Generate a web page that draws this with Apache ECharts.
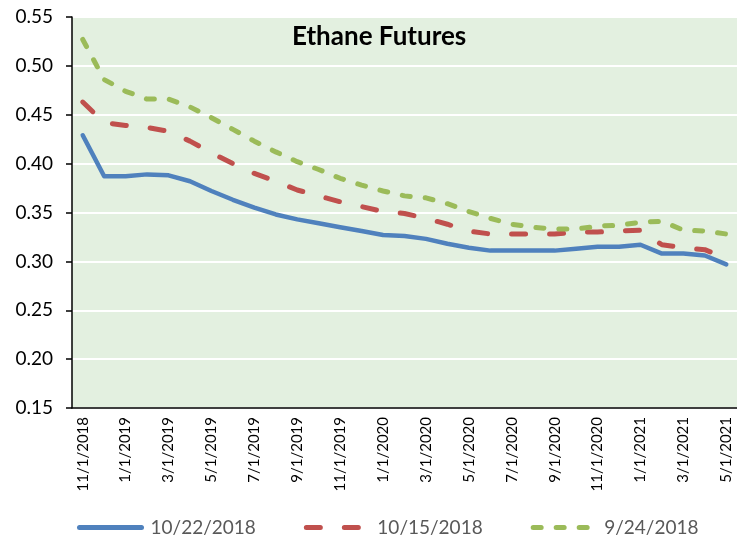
<!DOCTYPE html>
<html>
<head>
<meta charset="utf-8">
<script src="https://cdn.jsdelivr.net/npm/echarts@6/dist/echarts.min.js"></script>
<style>
  html, body { margin: 0; padding: 0; background: #fff; }
  #main { width: 737px; height: 543px; }
</style>
</head>
<body>
<div id="main"></div>
<script>
const months = [
    '11/1/2018', '12/1/2018',
    '1/1/2019', '2/1/2019', '3/1/2019', '4/1/2019', '5/1/2019', '6/1/2019',
    '7/1/2019', '8/1/2019', '9/1/2019', '10/1/2019', '11/1/2019', '12/1/2019',
    '1/1/2020', '2/1/2020', '3/1/2020', '4/1/2020', '5/1/2020', '6/1/2020',
    '7/1/2020', '8/1/2020', '9/1/2020', '10/1/2020', '11/1/2020', '12/1/2020',
    '1/1/2021', '2/1/2021', '3/1/2021', '4/1/2021', '5/1/2021'
];
const curve1022 = [0.429, 0.387, 0.387, 0.389, 0.388, 0.382, 0.372, 0.363, 0.355, 0.348, 0.343,
    0.339, 0.335, 0.331, 0.327, 0.326, 0.323, 0.318, 0.314, 0.311, 0.311, 0.311, 0.311,
    0.313, 0.315, 0.315, 0.317, 0.308, 0.308, 0.306, 0.297];
const curve1015 = [0.463, 0.442, 0.439, 0.437, 0.433, 0.423, 0.411, 0.400, 0.390, 0.382, 0.373,
    0.367, 0.361, 0.356, 0.351, 0.349, 0.344, 0.338, 0.331, 0.328, 0.328, 0.328, 0.328,
    0.330, 0.330, 0.331, 0.332, 0.317, 0.314, 0.312, 0.303];
const curve0924 = [0.527, 0.486, 0.474, 0.466, 0.466, 0.458, 0.447, 0.435, 0.423, 0.412, 0.402,
    0.394, 0.385, 0.378, 0.372, 0.367, 0.365, 0.359, 0.351, 0.344, 0.338, 0.335, 0.333,
    0.333, 0.336, 0.337, 0.340, 0.341, 0.332, 0.331, 0.328];
const seriesNames = ['10/22/2018', '10/15/2018', '9/24/2018'];

const font = 'Lato';

const option = {
    animation: false,
    backgroundColor: '#fff',
    title: {
        text: 'Ethane Futures',
        left: 287,
        top: 19,
        textStyle: { fontFamily: font, fontWeight: 'bold', fontSize: 26, color: '#000' }
    },
    legend: {
        left: 72,
        bottom: 1,
        itemWidth: 62,
        itemHeight: 12,
        itemGap: 48,
        itemStyle: { opacity: 0, borderWidth: 0 },
        lineStyle: { width: 5, cap: 'round' },
        textStyle: { fontFamily: font, fontSize: 19, color: '#595959', padding: [0, 0, 0, 4] },
        data: seriesNames
    },
    grid: {
        left: 72,
        right: -1,
        top: 17,
        bottom: 135,
        show: true,
        backgroundColor: '#e3f0e0',
        borderWidth: 0
    },
    xAxis: {
        type: 'category',
        data: months,
        boundaryGap: true,
        axisLine: { lineStyle: { color: '#000', width: 1.5 } },
        axisTick: { interval: 1, length: 6, lineStyle: { color: '#000', width: 1.5 } },
        axisLabel: {
            interval: 1,
            rotate: 90,
            margin: 9,
            fontFamily: font,
            fontSize: 15,
            color: '#000'
        },
        splitLine: { show: false }
    },
    yAxis: {
        type: 'value',
        min: 0.15,
        max: 0.55,
        interval: 0.05,
        axisLine: { show: true, lineStyle: { color: '#000', width: 1.5 } },
        axisTick: { show: true, length: 6, lineStyle: { color: '#000', width: 1.5 } },
        axisLabel: {
            margin: 19,
            fontFamily: font,
            fontSize: 19,
            color: '#000',
            formatter: v => v.toFixed(2)
        },
        splitLine: { lineStyle: { color: '#fff', width: 2 } }
    },
    series: [
        {
            name: seriesNames[0],
            type: 'line',
            data: curve1022,
            symbol: 'none',
            color: '#4f81bd',
            lineStyle: { width: 4.5, color: '#4f81bd', cap: 'round', join: 'round' }
        },
        {
            name: seriesNames[1],
            type: 'line',
            data: curve1015,
            symbol: 'none',
            color: '#c0504d',
            lineStyle: { width: 5, color: '#c0504d', type: [14, 24], cap: 'round', join: 'round' }
        },
        {
            name: seriesNames[2],
            type: 'line',
            data: curve0924,
            symbol: 'none',
            color: '#9bbb59',
            lineStyle: { width: 5, color: '#9bbb59', type: [8, 15], cap: 'round', join: 'round' }
        }
    ]
};

const myChart = echarts.init(document.getElementById('main'));
myChart.setOption(option);
</script>
</body>
</html>
